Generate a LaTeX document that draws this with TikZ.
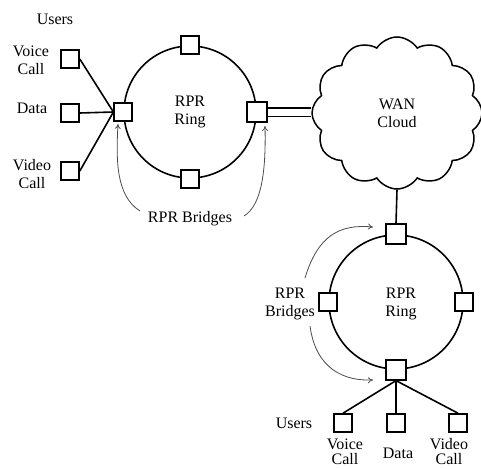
\documentclass[tikz,border=0pt]{standalone}
\usepackage{fontspec}
\setmainfont{Liberation Serif}
\usetikzlibrary{shapes.symbols,arrows.meta}
\begin{document}
\begin{tikzpicture}[x=1pt,y=-1pt,
  sq/.style={draw,line width=1.6pt,fill=white,minimum size=18pt,inner sep=0pt},
  bsq/.style={sq,minimum size=20pt},
  ring/.style={draw,line width=1.6pt,circle,inner sep=0pt,align=center,font=\fontsize{16}{18}\selectfont},
  lbl/.style={font=\fontsize{16}{18}\selectfont,align=center,inner sep=0pt},
  wire/.style={line width=1.6pt},
  callout/.style={draw=black!70,line width=0.8pt,-{To[length=5pt,width=6pt]}}]
\useasboundingbox (0,0) rectangle (481,468);
% upper ring
\node[ring,minimum size=132pt] (r1) at (190,112) {RPR\\Ring};
\node[sq] (t1) at (r1.north) {};
\node[sq] (b1) at (r1.west) {};
\node[bsq] (b2) at (r1.east) {};
\node[sq] (s1) at (r1.south) {};
% upper users
\node[sq] (u1) at (70,59) {};
\node[sq] (u2) at (70,113) {};
\node[sq] (u3) at (70,171) {};
\draw[wire] (u1.east) -- (b1.west);
\draw[wire] (u2.east) -- (b1.west);
\draw[wire] (u3.east) -- (b1.west);
\node[lbl] (usr1) at (55,19) {Users};
\node[lbl] (lv1) at (31,60) {Voice\\Call};
\node[lbl] (ld1) at (32,108) {Data};
\node[lbl] (lw1) at (32,174) {Video\\Call};
\node[lbl] (br1) at (190,219) {RPR Bridges};
\draw[callout] (140,211) .. controls (116,196) and (116,160) .. (118,124);
\draw[callout] (244,216) .. controls (262,205) and (266,170) .. (265,126);
% cloud
\node[cloud,draw,line width=1.5pt,cloud puffs=12,cloud puff arc=115,aspect=1.1,
  minimum width=170pt,minimum height=152pt,inner sep=0pt,align=center,
  font=\fontsize{16}{18}\selectfont] (c) at (397,113) {WAN\\Cloud};
\draw[wire,double,double distance=7pt] ([xshift=0.8pt]b2.east) -- (b2.east -| c.west);
% lower ring
\node[ring,minimum size=134pt] (r2) at (396,302) {};
\node[lbl] (rr2) at (401,304) {RPR\\Ring};
\node[bsq] (t2) at (r2.north) {};
\node[sq] (w2) at (r2.west) {};
\node[sq] (e2) at (r2.east) {};
\node[bsq] (s2) at (r2.south) {};
\draw[wire] (c.south) -- (t2.north);
% lower users
\node[sq] (v1) at (343,423) {};
\node[sq] (v2) at (396,423) {};
\node[sq] (v3) at (458,423) {};
\draw[wire] (s2.south) -- (v1.north);
\draw[wire] (s2.south) -- (v2.north);
\draw[wire] (s2.south) -- (v3.north);
\node[lbl] (usr2) at (294,423) {Users};
\node[lbl,font=\fontsize{16}{15}\selectfont] (lv2) at (345,452) {Voice\\Call};
\node[lbl] (ld2) at (398,453) {Data};
\node[lbl,font=\fontsize{16}{15}\selectfont] (lw2) at (449,452) {Video\\Call};
\node[lbl] (br2) at (290,304) {RPR\\Bridges};
\draw[callout] (305,278) .. controls (318,235) and (340,224) .. (373,227);
\draw[callout] (310,326) .. controls (316,370) and (345,381) .. (373,380);
\end{tikzpicture}
\end{document}
